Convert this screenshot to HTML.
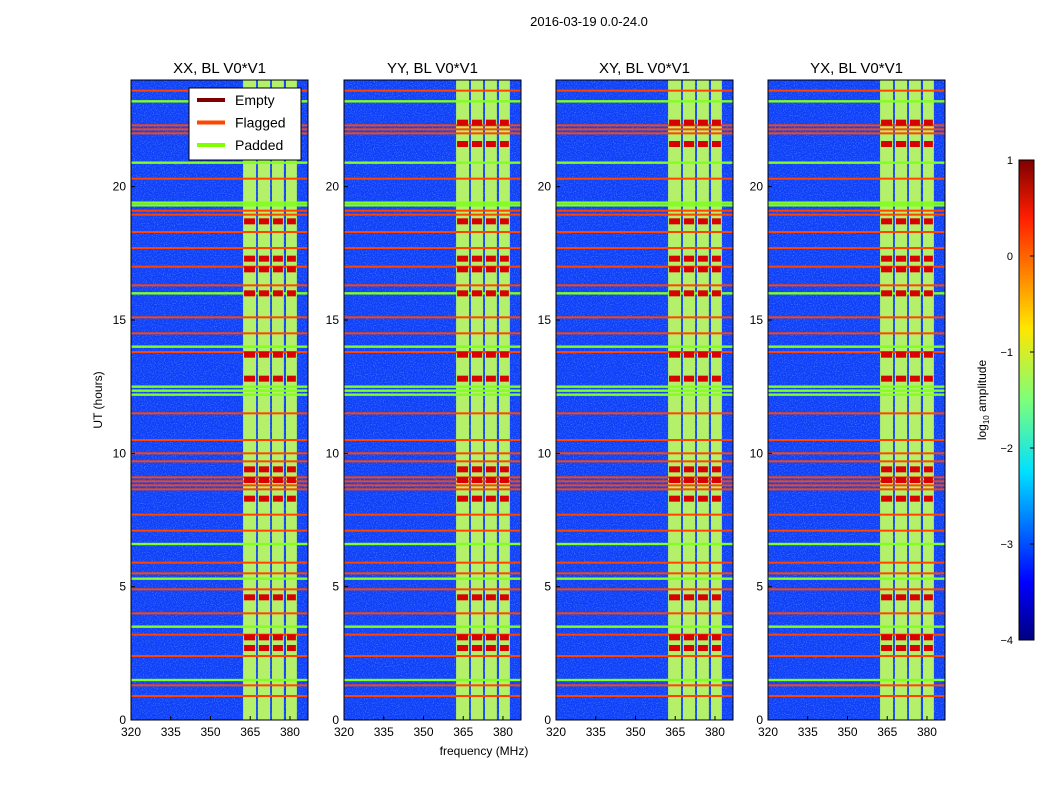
<!DOCTYPE html>
<html><head><meta charset="utf-8"><style>
body{margin:0;background:#fff;font-family:"Liberation Sans",sans-serif}
svg text{font-family:"Liberation Sans",sans-serif}
</style></head><body>
<svg id="fig" width="1050" height="800"></svg>
<script>
const titles=["XX, BL V0*V1","YY, BL V0*V1","XY, BL V0*V1","YX, BL V0*V1"];
const panelX=[131,344,556,768];
const xTicks=[320,335,350,365,380];
const yTicks=[0,5,10,15,20];
const subBands=[[362.3,367.2],[367.9,372.5],[373.2,377.7],[378.5,382.6]];
const flaggedHours=[23.6,22.0,22.15,22.3,20.3,19.1,18.95,18.3,17.7,17.0,16.3,15.1,14.5,13.8,11.5,10.5,10.0,9.7,9.1,8.95,8.8,8.65,7.7,7.1,5.9,5.5,4.9,4.0,3.2,2.4,1.3,0.9];
const paddedHours=[23.2,20.9,19.4,19.3,16.0,14.0,12.5,12.35,12.2,6.6,5.3,3.5,1.5];
const bandHotHours=[22.4,21.6,18.7,17.3,16.9,16.0,13.7,12.8,9.4,9.0,8.3,4.6,3.1,2.7];
const cbTicks=[-4,-3,-2,-1,0,1];
const NS="http://www.w3.org/2000/svg";
const svg=document.getElementById('fig');
const W=177,Y0=720,Y1=80,XMIN=320,XMAX=386.8,YMAX=24;
function mk(t,a,p){const e=document.createElementNS(NS,t);for(const k in a)e.setAttribute(k,a[k]);(p||svg).appendChild(e);return e;}
function sy(h){return Y0-(h/YMAX)*(Y0-Y1);}
const defs=mk('defs',{});
defs.innerHTML='<filter id="nz" x="0" y="0" width="1" height="1"><feTurbulence type="fractalNoise" baseFrequency="0.9" numOctaves="1" seed="3"/><feColorMatrix values="0 0 0 0 0.2  0 0 0 0 0.5  0 0 0 0 1  0 0 0 1.6 -0.8"/></filter><linearGradient id="cb" x1="0" y1="1" x2="0" y2="0"><stop offset="0" stop-color="#00007f"/><stop offset="0.12" stop-color="#0000ff"/><stop offset="0.35" stop-color="#00e0ff"/><stop offset="0.5" stop-color="#7dff7a"/><stop offset="0.65" stop-color="#ffe600"/><stop offset="0.88" stop-color="#ff1e00"/><stop offset="1" stop-color="#7f0000"/></linearGradient>';
mk('text',{x:589,y:26,'font-size':13,'text-anchor':'middle'}).textContent="2016-03-19 0.0-24.0";
panelX.forEach((px,i)=>{
  const g=mk('g',{});
  
  
  const sx=f=>px+(f-XMIN)/(XMAX-XMIN)*W;
  mk('rect',{x:px,y:Y1,width:W,height:Y0-Y1,fill:'#1040f8'},g);
  mk('rect',{x:px,y:Y1,width:W,height:Y0-Y1,fill:'#000',filter:'url(#nz)'},g);
  subBands.forEach(b=>{
    const r=mk('rect',{x:sx(b[0]),y:Y1,width:sx(b[1])-sx(b[0]),height:Y0-Y1,fill:'#b4f06a'},g);
    
  });
  paddedHours.forEach(h=>{const r=mk('rect',{x:px,y:sy(h)-1.2,width:W,height:2.4,fill:'#80ff20'},g);
    });
  flaggedHours.forEach(h=>{const r=mk('rect',{x:px,y:sy(h)-1,width:W,height:2,fill:'#ff4500'},g);
    });
  bandHotHours.forEach(h=>{subBands.forEach(b=>{const r=mk('rect',{x:sx(b[0])+1,y:sy(h)-3,width:sx(b[1])-sx(b[0])-2,height:6,fill:'#d80000'},g);
    });});
  mk('rect',{x:px,y:Y1,width:W,height:Y0-Y1,fill:'none',stroke:'#000'},g);
  const t=mk('text',{x:px+W/2,y:73,'font-size':15,'text-anchor':'middle'},g);t.textContent=titles[i];
  xTicks.forEach(v=>{const x=sx(v);mk('line',{x1:x,x2:x,y1:Y0,y2:Y0-4,stroke:'#000'},g);
    const l=mk('text',{x:x,y:736,'font-size':12,'text-anchor':'middle'},g);l.textContent=v;});
  yTicks.forEach(v=>{const y=sy(v);mk('line',{x1:px,x2:px+4,y1:y,y2:y,stroke:'#000'},g);
    const l=mk('text',{x:px-5,y:y+4,'font-size':12,'text-anchor':'end'},g);l.textContent=v;});
});
const xl=mk('text',{x:484,y:755,'font-size':12,'text-anchor':'middle'});xl.textContent="frequency (MHz)";

const yl=mk('text',{x:102,y:400,'font-size':12,'text-anchor':'middle',transform:'rotate(-90 102 400)'});yl.textContent="UT (hours)";

const lg=mk('g',{});
mk('rect',{x:189,y:88,width:112,height:72,fill:'#fff',stroke:'#000'},lg);
[["Empty","#800000"],["Flagged","#ff4500"],["Padded","#7fff00"]].forEach((e,k)=>{
  const y=100+k*22.5;mk('line',{x1:197,x2:225,y1:y,y2:y,stroke:e[1],'stroke-width':4},lg);
  const t=mk('text',{x:235,y:y+5,'font-size':14},lg);t.textContent=e[0];});
const cb=mk('g',{});
mk('rect',{x:1019,y:160,width:15,height:480,fill:'url(#cb)',stroke:'#000'},cb);
cbTicks.forEach(v=>{const y=640-(v+4)/5*480;mk('line',{x1:1030,x2:1034,y1:y,y2:y,stroke:'#000'},cb);
  const t=mk('text',{x:1013,y:y+4,'font-size':11,'text-anchor':'end'},cb);t.textContent=v<0?'\u2212'+(-v):v;});
const ct=mk('text',{x:986,y:400,'font-size':12,'text-anchor':'middle',transform:'rotate(-90 986 400)'},cb);
ct.innerHTML='log<tspan font-size="8" dy="3">10</tspan><tspan dy="-3"> amplitude</tspan>';
</script>
</body></html>
